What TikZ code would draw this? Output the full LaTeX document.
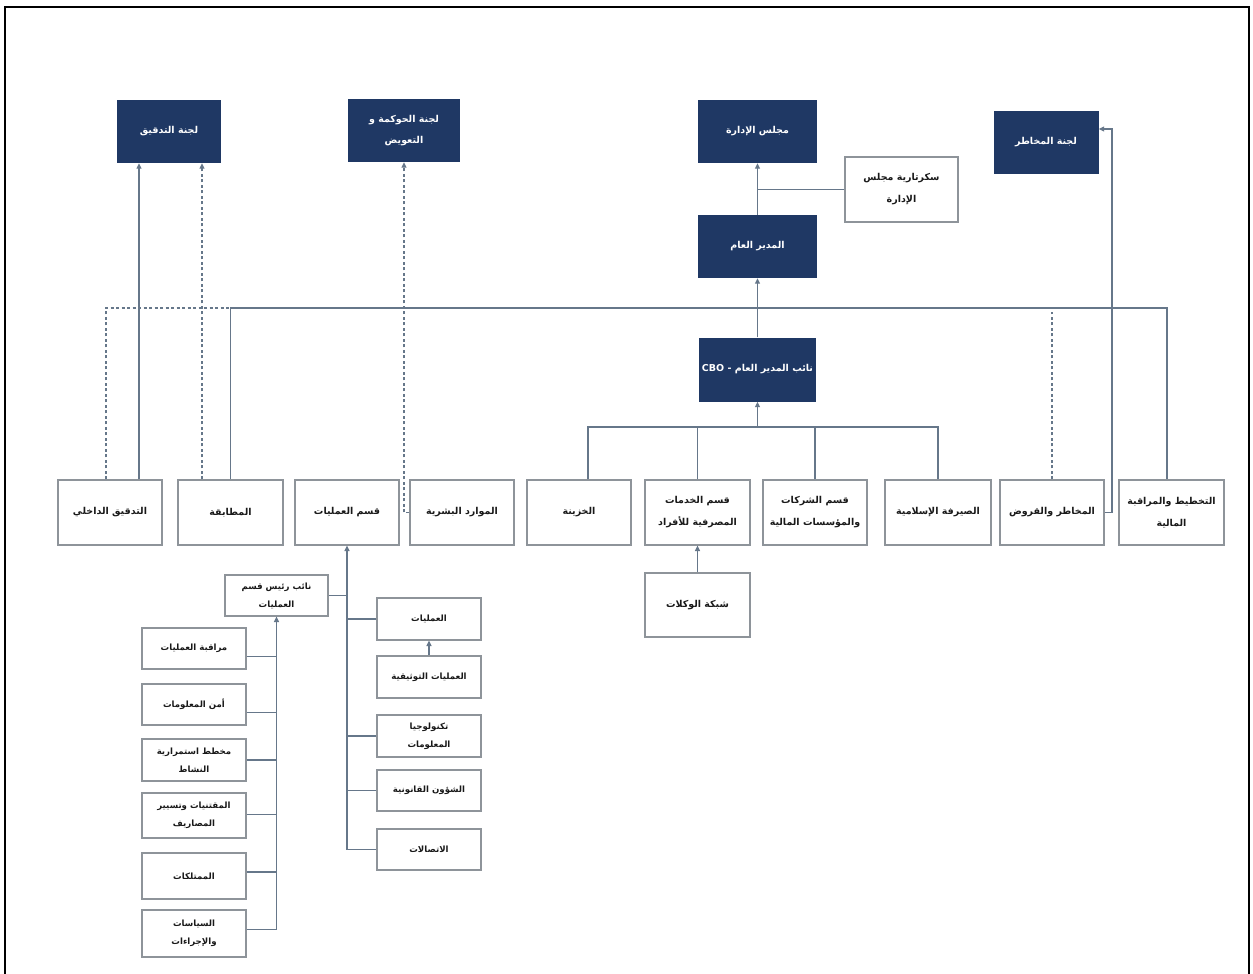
\documentclass[tikz,border=0pt]{standalone}
\usepackage{fontspec}
\newfontfamily\arabicfont[Script=Arabic]{DejaVu Sans}
\TeXXeTstate=1
\usetikzlibrary{arrows.meta,shadows,calc}
\definecolor{navy}{HTML}{1F3864}
\definecolor{lc}{HTML}{66778A}
\definecolor{bd}{HTML}{8E949A}
\newcommand{\artxt}[1]{\beginR #1\endR}
\tikzset{
  sz/.style 2 args={minimum width=#1pt, minimum height=#2pt},
  dark/.style={fill=navy, text=white, inner sep=0pt, align=center,
    font=\arabicfont\bfseries\fontsize{9.5}{21}\selectfont},
  wbox/.style={draw=bd, line width=1.2pt, fill=white, text=black!90, inner sep=0pt, align=center,
    drop shadow={shadow xshift=1pt, shadow yshift=-1.4pt, fill=gray!60, opacity=1},
    font=\arabicfont\bfseries\fontsize{9.5}{22}\selectfont},
  sbox/.style={wbox, font=\arabicfont\bfseries\fontsize{8.6}{18}\selectfont},
  ln/.style={draw=lc, line width=1.2pt},
  arr/.style={ln, -{Triangle[length=5.5pt,width=5pt]}},
  dsh/.style={dash pattern=on 3pt off 2.5pt},
}
\begin{document}
\begin{tikzpicture}[x=1pt,y=-1pt]
\useasboundingbox (0,0) rectangle (1253,974);
\clip (0,0) rectangle (1253,974);
\fill[white] (0,0) rectangle (1253,974);
% frame
\draw[line width=2.5pt] (5,990) -- (5,7);
\draw[line width=1.6pt] (4,7) -- (1250,7);
\draw[line width=2.5pt] (1249,7) -- (1249,990);

% top level
\node[dark, sz={104}{63}] (audc) at (169,131.5) {\artxt{لجنة التدقيق}};
\node[dark, sz={112}{63}] (gov) at (404,130.5) {\artxt{لجنة الحوكمة و}\\\artxt{التعويض}};
\node[dark, sz={119}{63}] (board) at (757.5,131.5) {\artxt{مجلس الإدارة}};
\node[dark, sz={105}{63}] (riskc) at (1046,142.5) {\artxt{لجنة المخاطر}};
\node[wbox, sz={113}{65}] (secr) at (901.5,189.5) {\artxt{سكرتارية مجلس}\\\artxt{الإدارة}};
\node[dark, sz={119}{63}] (gm) at (757.5,246.5) {\artxt{المدير العام}};
\node[dark, sz={117}{64}] (cbo) at (757.5,369.5) {\artxt{نائب المدير العام - \beginL CBO\endL}};

% departments row
\node[wbox, sz={104}{65}] (ia) at (110,512.5) {\artxt{التدقيق الداخلي}};
\node[wbox, sz={105}{65}] (compl) at (230.5,512.5) {\artxt{المطابقة}};
\node[wbox, sz={104}{65}] (ops) at (347,512.5) {\artxt{قسم العمليات}};
\node[wbox, sz={104}{65}] (hr) at (462,512.5) {\artxt{الموارد البشرية}};
\node[wbox, sz={104}{65}] (treas) at (579,512.5) {\artxt{الخزينة}};
\node[wbox, sz={105}{65}] (retail) at (697.5,512.5) {\artxt{قسم الخدمات}\\\artxt{المصرفية للأفراد}};
\node[wbox, sz={104}{65}] (corp) at (815,512.5) {\artxt{قسم الشركات}\\\artxt{والمؤسسات المالية}};
\node[wbox, sz={106}{65}] (isl) at (938,512.5) {\artxt{الصيرفة الإسلامية}};
\node[wbox, sz={104}{65}] (risk) at (1052,512.5) {\artxt{المخاطر والقروض}};
\node[wbox, sz={105}{65}] (plan) at (1171.5,512.5) {\artxt{التخطيط والمراقبة}\\\artxt{المالية}};
\node[wbox, sz={105}{64}] (agency) at (697.5,605) {\artxt{شبكة الوكلات}};

% operations sub-tree
\node[sbox, sz={103}{41}] (dep) at (276.5,595.5) {\artxt{نائب رئيس قسم}\\\artxt{العمليات}};
\node[sbox, sz={104}{42}] (ops1) at (429,619) {\artxt{العمليات}};
\node[sbox, sz={104}{42}] (doc) at (429,677) {\artxt{العمليات التوثيقية}};
\node[sbox, sz={104}{42}] (it) at (429,736) {\artxt{تكنولوجيا}\\\artxt{المعلومات}};
\node[sbox, sz={104}{41}] (legal) at (429,790.5) {\artxt{الشؤون القانونية}};
\node[sbox, sz={104}{41}] (comm) at (429,849.5) {\artxt{الاتصالات}};
\node[sbox, sz={104}{41}] (mon) at (194,648.5) {\artxt{مراقبة العمليات}};
\node[sbox, sz={104}{41}] (infosec) at (194,704.5) {\artxt{أمن المعلومات}};
\node[sbox, sz={104}{42}] (bcp) at (194,760) {\artxt{مخطط استمرارية}\\\artxt{النشاط}};
\node[sbox, sz={104}{45}] (procm) at (194,815.5) {\artxt{المقتنيات وتسيير}\\\artxt{المصاريف}};
\node[sbox, sz={104}{46}] (prop) at (194,876) {\artxt{الممتلكات}};
\node[sbox, sz={104}{47}] (pol) at (194,933.5) {\artxt{السياسات}\\\artxt{والإجراءات}};

% helper coordinates
\coordinate (mainL) at (106,308);
\coordinate (xp) at (1167,308);
\coordinate (x1) at (139,0);
\coordinate (x2) at (202,0);
\coordinate (rx) at (1112,129);
\coordinate (l2) at (588,427);

% audit committee links
\draw[arr] (ia.north -| x1) -- (audc.south -| x1);
\draw[arr, dsh] (compl.north -| x2) -- (audc.south -| x2);
\draw[ln, dsh] (ia.north -| mainL) -- (mainL) -- (compl.north |- mainL);
% main staff line
\draw[ln] (compl.north) -- (compl.north |- mainL) -- (xp) -- (plan.north -| xp);
% governance
\draw[arr, dsh] (hr.west) -- (hr.west -| gov.south) -- (gov.south);
% risk
\draw[ln, dsh] (risk.north) -- ($(risk.north |- mainL)+(0,4)$);
\draw[arr] (risk.east) -- (risk.east -| rx) -- (rx) -- (rx -| riskc.east);
% board / GM
\draw[arr] (gm.north) -- (board.south);
\draw[ln] (secr.west) -- (secr.west -| gm.north);
\draw[arr] (cbo.north) -- (gm.south);
% second level
\draw[ln] (treas.north -| l2) -- (l2) -- (isl.north |- l2) -- (isl.north);
\draw[ln] (retail.north) -- (retail.north |- l2);
\draw[ln] (corp.north) -- (corp.north |- l2);
\draw[arr] (cbo.south |- l2) -- (cbo.south);
\draw[arr] (agency.north) -- (retail.south);
% operations
\draw[arr] (ops.south |- comm.west) -- (ops.south);
\draw[ln] (dep.east) -- (dep.east -| ops.south);
\foreach \n in {ops1,it,legal,comm} \draw[ln] (\n.west) -- (\n.west -| ops.south);
\draw[arr] (doc.north) -- (ops1.south);
\draw[arr] ($(pol.east -| dep.south)+(0,-4)$) -- (dep.south);
\foreach \n/\o in {mon/8,infosec/8,bcp/0,procm/-1,prop/-4,pol/-4}
  \draw[ln] ($(\n.east)+(0,\o)$) -- ($(\n.east -| dep.south)+(0,\o)$);
\end{tikzpicture}
\end{document}
